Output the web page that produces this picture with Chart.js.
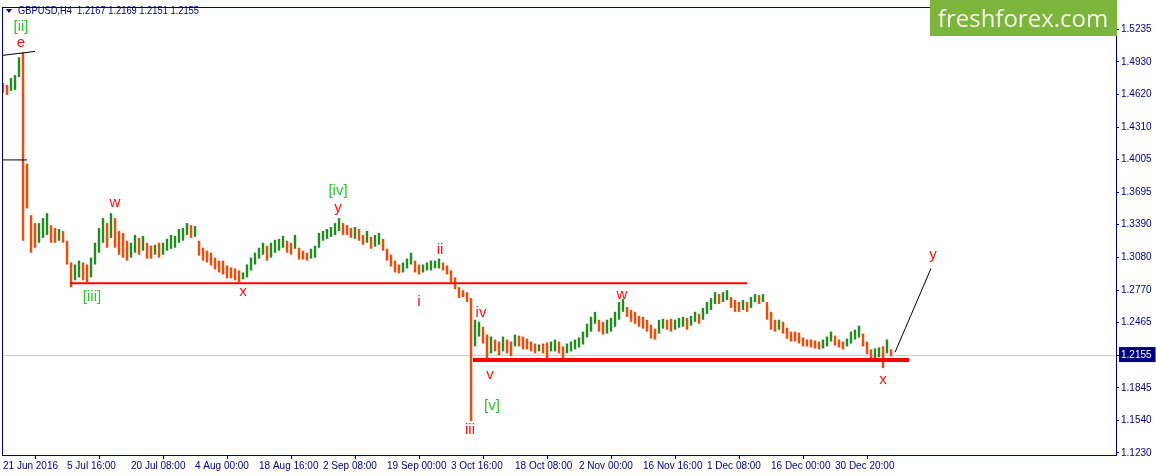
<!DOCTYPE html>
<html><head><meta charset="utf-8">
<script src="https://cdn.jsdelivr.net/npm/chart.js@4.4.1/dist/chart.umd.min.js"></script>
<style>html,body{margin:0;padding:0;background:#fff;overflow:hidden}canvas{display:block}</style>
</head><body><canvas id="c" width="1156" height="476"></canvas>
<script>
const symbolTitle = 'GBPUSD,H4  1.2167 1.2169 1.2151 1.2155';
const barStep = 4; // H4 bars covered by each drawn bar
const highs = [
1.4730,1.4712,1.4777,1.4805,1.4973,1.5020,1.3965,1.3479,1.3404,1.3404,
1.3451,1.3498,1.3385,1.3357,1.3348,1.3329,1.3237,1.3031,1.3012,1.3049,
1.3031,1.3012,1.3077,1.3218,1.3357,1.3451,1.3404,1.3498,1.3451,1.3329,
1.3311,1.3237,1.3218,1.3292,1.3264,1.3283,1.3218,1.3190,1.3199,1.3218,
1.3218,1.3255,1.3292,1.3283,1.3348,1.3357,1.3404,1.3385,1.3376,1.3237,
1.3171,1.3143,1.3124,1.3077,1.3049,1.3049,1.3003,1.2984,1.2975,1.2956,
1.2937,1.3012,1.3077,1.3124,1.3171,1.3218,1.3190,1.3218,1.3246,1.3255,
1.3283,1.3237,1.3218,1.3292,1.3171,1.3143,1.3124,1.3161,1.3190,1.3311,
1.3329,1.3348,1.3367,1.3404,1.3451,1.3404,1.3385,1.3357,1.3367,1.3348,
1.3292,1.3329,1.3274,1.3292,1.3311,1.3255,1.3161,1.3105,1.3049,1.3012,
1.3031,1.3068,1.3124,1.3049,1.3012,1.3012,1.3031,1.3049,1.3049,1.3068,
1.3031,1.3003,1.2956,1.2890,1.2797,1.2769,1.2750,1.2694,1.2489,1.2470,
1.2423,1.2349,1.2330,1.2302,1.2283,1.2330,1.2302,1.2283,1.2349,1.2339,
1.2330,1.2311,1.2283,1.2264,1.2255,1.2264,1.2274,1.2283,1.2302,1.2283,
1.2237,1.2264,1.2283,1.2302,1.2321,1.2377,1.2451,1.2517,1.2564,1.2489,
1.2470,1.2489,1.2507,1.2564,1.2657,1.2685,1.2610,1.2582,1.2564,1.2526,
1.2517,1.2489,1.2442,1.2405,1.2489,1.2498,1.2489,1.2498,1.2489,1.2507,
1.2517,1.2507,1.2526,1.2564,1.2545,1.2601,1.2657,1.2694,1.2750,1.2732,
1.2750,1.2769,1.2704,1.2676,1.2657,1.2676,1.2657,1.2704,1.2732,1.2722,
1.2732,1.2657,1.2564,1.2489,1.2489,1.2470,1.2414,1.2377,1.2377,1.2367,
1.2321,1.2302,1.2302,1.2292,1.2283,1.2302,1.2330,1.2377,1.2339,1.2302,
1.2283,1.2311,1.2377,1.2395,1.2433,1.2358,1.2283,1.2209,1.2218,1.2227,
1.2237,1.2302,1.2209];
const lows = [
1.4637,1.4618,1.4656,1.4665,1.4787,1.3237,1.3544,1.3124,1.3171,1.3218,
1.3264,1.3292,1.3218,1.3218,1.3237,1.3218,1.3012,1.2797,1.2863,1.2890,
1.2863,1.2844,1.2890,1.3012,1.3124,1.3218,1.3171,1.3264,1.3171,1.3105,
1.3077,1.3049,1.3077,1.3124,1.3105,1.3143,1.3068,1.3068,1.3105,1.3077,
1.3105,1.3143,1.3161,1.3171,1.3218,1.3237,1.3292,1.3264,1.3274,1.3096,
1.3049,1.3031,1.3003,1.2965,1.2937,1.2918,1.2881,1.2881,1.2863,1.2844,
1.2872,1.2890,1.2956,1.3012,1.3068,1.3105,1.3049,1.3077,1.3124,1.3143,
1.3171,1.3124,1.3105,1.3161,1.3059,1.3059,1.3049,1.3068,1.3077,1.3171,
1.3237,1.3255,1.3274,1.3292,1.3329,1.3292,1.3292,1.3264,1.3255,1.3237,
1.3199,1.3218,1.3161,1.3180,1.3199,1.3143,1.3049,1.2993,1.2937,1.2928,
1.2937,1.2975,1.3012,1.2937,1.2918,1.2937,1.2956,1.2956,1.2975,1.2975,
1.2956,1.2918,1.2844,1.2778,1.2694,1.2704,1.2657,1.1530,1.2237,1.2330,
1.2264,1.2115,1.2171,1.2190,1.2153,1.2190,1.2171,1.2143,1.2237,1.2237,
1.2209,1.2209,1.2190,1.2171,1.2190,1.2171,1.2125,1.2190,1.2190,1.2171,
1.2125,1.2171,1.2190,1.2209,1.2227,1.2255,1.2321,1.2377,1.2451,1.2377,
1.2349,1.2358,1.2377,1.2423,1.2489,1.2564,1.2517,1.2470,1.2451,1.2423,
1.2405,1.2377,1.2311,1.2302,1.2358,1.2405,1.2395,1.2377,1.2395,1.2414,
1.2423,1.2395,1.2433,1.2470,1.2451,1.2489,1.2545,1.2582,1.2638,1.2638,
1.2657,1.2676,1.2601,1.2564,1.2564,1.2582,1.2564,1.2601,1.2657,1.2638,
1.2657,1.2489,1.2395,1.2377,1.2395,1.2358,1.2311,1.2283,1.2283,1.2264,
1.2237,1.2237,1.2227,1.2218,1.2209,1.2218,1.2237,1.2283,1.2246,1.2227,
1.2209,1.2237,1.2264,1.2302,1.2321,1.2237,1.2162,1.2115,1.2125,1.2134,
1.2031,1.2171,1.2143];
const lastPrice = 1.2155;
const yTicks = [1.5235,1.4930,1.4620,1.4310,1.4005,1.3695,1.3390,1.3080,1.2770,1.2465,1.2155,1.1845,1.1540,1.1230];
const xTickBars = [0,64,128,192,256,320,384,448,512,576,640,704,768,832];
const xTickLabels = ['21 Jun 2016','5 Jul 16:00','20 Jul 08:00','4 Aug 00:00','18 Aug 16:00','2 Sep 08:00','19 Sep 00:00','3 Oct 16:00','18 Oct 08:00','2 Nov 00:00','16 Nov 16:00','1 Dec 08:00','16 Dec 00:00','30 Dec 20:00'];
const waveTexts  = ['[ii]','e','w','[iii]','x','[iv]','y','ii','i','iv','v','[v]','iii','w','x','y'];
const waveBars   = [18,18,112,89,240,335,335,437,416,478,487,489,467,619,880,930];
const wavePrices = [1.5263,1.5113,1.3600,1.2704,1.2750,1.3712,1.3544,1.3152,1.2657,1.2554,1.1966,1.1676,1.1443,1.2722,1.1919,1.3105];
const waveMajor  = [true,false,false,true,false,true,false,false,false,false,false,true,false,false,false,false];
const lineBarFrom   = [67,470,0,0,892];
const lineBarTo     = [744,906,32,24,928];
const linePriceFrom = [1.2835,1.2109,1.4992,1.4002,1.2181];
const linePriceTo   = [1.2835,1.2109,1.5029,1.4002,1.2975];
const lineColors = ['#ff0000','#ff0000','#000000','#000000','#000000'];
const lineWidths = [2,4,1,1,1];

const BULL = '#228b22', BEAR = '#ff4500', NAVY = '#000080';
const mids = highs.map((h,i)=>(h+lows[i])/2);
const barColors = mids.map((m,i)=> i>0 && m>mids[i-1] ? BULL : BEAR);
const barData = highs.map((h,i)=>({x:i*barStep, y:[lows[i], h]}));

const overlay = {
  id:'overlay',
  beforeDatasetsDraw(chart){
    const {ctx, chartArea:a, scales:{y}} = chart;
    const py = Math.round(y.getPixelForValue(lastPrice))+0.5;
    ctx.save(); ctx.strokeStyle='#cccccc'; ctx.lineWidth=1;
    ctx.beginPath(); ctx.moveTo(a.left,py); ctx.lineTo(a.right,py); ctx.stroke(); ctx.restore();
  },
  afterDatasetsDraw(chart){
    const {ctx, scales:{x,y}} = chart;
    ctx.save();
    for(let i=0;i<lineBarFrom.length;i++){
      ctx.strokeStyle=lineColors[i]; ctx.lineWidth=lineWidths[i];
      ctx.beginPath();
      ctx.moveTo(x.getPixelForValue(lineBarFrom[i]), y.getPixelForValue(linePriceFrom[i]));
      ctx.lineTo(x.getPixelForValue(lineBarTo[i]), y.getPixelForValue(linePriceTo[i]));
      ctx.stroke();
    }
    ctx.font='15px "Liberation Sans", Arial, sans-serif';
    ctx.textAlign='center'; ctx.textBaseline='middle';
    for(let i=0;i<waveTexts.length;i++){
      ctx.fillStyle = waveMajor[i] ? '#2ec42e' : '#ff1010';
      ctx.fillText(waveTexts[i], x.getPixelForValue(waveBars[i]), y.getPixelForValue(wavePrices[i]));
    }
    ctx.restore();
  },
  afterDraw(chart){
    const {ctx, chartArea:a} = chart;
    ctx.save();
    ctx.strokeStyle=NAVY; ctx.lineWidth=1;
    ctx.strokeRect(a.left-0.5, a.top-0.5, a.right-a.left+1, a.bottom-a.top+1);
    // title
    ctx.fillStyle=NAVY;
    ctx.beginPath(); ctx.moveTo(6,9); ctx.lineTo(12,9); ctx.lineTo(9,13); ctx.closePath(); ctx.fill();
    ctx.font='11px "Liberation Sans", Arial, sans-serif';
    ctx.textAlign='left'; ctx.textBaseline='middle';
    const tw = ctx.measureText(symbolTitle).width;
    ctx.save(); ctx.translate(18, 11); ctx.scale(181/tw, 1);
    ctx.fillText(symbolTitle, 0, 0); ctx.restore();
    // logo
    ctx.fillStyle='#7cb53b';
    ctx.fillRect(930,0,187,36);
    let fs=26; ctx.font=fs+'px "Open Sans", sans-serif';
    const w=ctx.measureText('freshforex.com').width; fs=fs*170/w;
    ctx.font=fs.toFixed(1)+'px "Open Sans", sans-serif';
    ctx.fillStyle='#f4f8ea'; ctx.textAlign='center'; ctx.textBaseline='alphabetic';
    ctx.fillText('freshforex.com', 1023, 27);
    ctx.restore();
  }
};

new Chart(document.getElementById('c'), {
  type:'bar',
  data:{datasets:[{data:barData, backgroundColor:barColors, borderWidth:0, barPercentage:0.6, categoryPercentage:1}]},
  options:{
    responsive:false, animation:false, devicePixelRatio:1,
    layout:{padding:{left:3, top:2, right:0, bottom:0}},
    plugins:{legend:{display:false}, tooltip:{enabled:false}},
    scales:{
      x:{type:'linear', min:0, max:1113, offset:false,
         afterFit(s){ s.height=21; },
         afterBuildTicks(s){ s.ticks = xTickBars.map(v=>({value:v})); },
         grid:{drawOnChartArea:false, drawTicks:true, tickLength:4, color:NAVY},
         border:{display:false},
         ticks:{autoSkip:false, maxRotation:0, minRotation:0, align:'start', padding:1, color:NAVY,
           font:{family:'"Liberation Sans", Arial, sans-serif', size:10},
           callback:(v)=>{ const k=xTickBars.indexOf(v); return k>=0?xTickLabels[k]:''; }}
      },
      y:{type:'linear', position:'right', min:1.1209, max:1.5440,
         afterFit(s){ s.width=40; },
         afterBuildTicks(s){ s.ticks = yTicks.map(v=>({value:v})); },
         grid:{drawOnChartArea:false, drawTicks:true, tickLength:3, color:NAVY},
         border:{display:false},
         ticks:{padding:2, align:'center',
           color:(c)=> c.tick && c.tick.value===lastPrice ? '#ffffff' : NAVY,
           showLabelBackdrop:(c)=> !!(c.tick && c.tick.value===lastPrice),
           backdropColor:NAVY, backdropPadding:{left:2,right:4,top:2,bottom:1},
           font:{family:'"Liberation Sans", Arial, sans-serif', size:10},
           callback:(v)=>v.toFixed(4)}
      }
    }
  },
  plugins:[overlay]
});
</script></body></html>
